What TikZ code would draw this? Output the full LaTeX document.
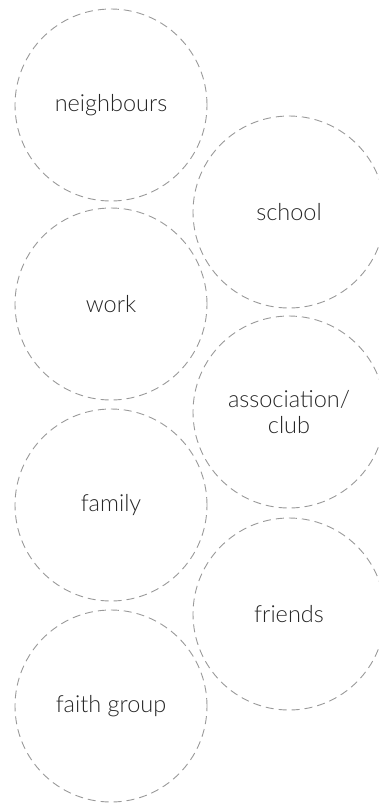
\documentclass[tikz,border=0pt]{standalone}
\usepackage{fontspec}
\setmainfont{Lato}[UprightFont=*-Light]
\begin{document}
\begin{tikzpicture}[x=1pt,y=-1pt,
  bubble/.style={circle,draw=black!40,line width=0.9pt,dash pattern=on 8pt off 5pt,minimum size=192pt,inner sep=0pt,align=center,font=\fontsize{23.5}{26}\selectfont,text=black!85}]
\useasboundingbox (0,0) rectangle (378,804);
\node[bubble] (neighbours) at (111,105) {neighbours};
\node[bubble] (school) at (289,212) {school};
\node[bubble] (work) at (111,304) {work};
\node[bubble] (assoc) at (289,412) {association/\\club};
\node[bubble] (family) at (111,505) {family};
\node[bubble] (friends) at (289,614) {friends};
\node[bubble] (faith) at (111,706) {faith group};
\end{tikzpicture}
\end{document}
